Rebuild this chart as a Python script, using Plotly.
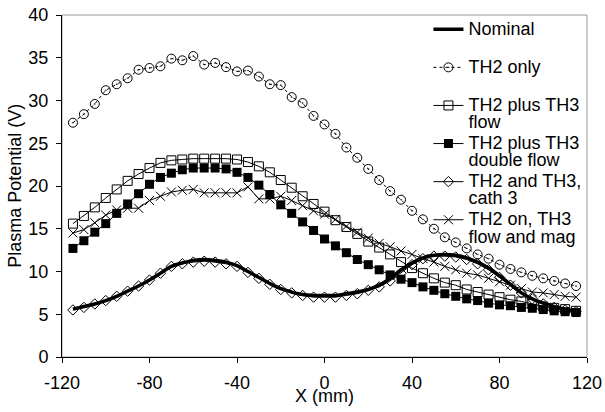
import plotly.graph_objects as go

x_mm = [-115, -110, -105, -100, -95, -90, -85, -80, -75, -70, -65, -60, -55, -50, -45, -40,
        -35, -30, -25, -20, -15, -10, -5, 0, 5, 10, 15, 20, 25, 30, 35, 40, 45, 50, 55, 60,
        65, 70, 75, 80, 85, 90, 95, 100, 105, 110, 115]

nominal = [5.6, 5.9, 6.2, 6.6, 7.1, 7.7, 8.3, 9.0, 9.8, 10.6, 11.0, 11.3, 11.4, 11.3, 11.1, 10.7,
           10.0, 9.3, 8.6, 8.0, 7.6, 7.3, 7.2, 7.2, 7.2, 7.4, 7.6, 7.9, 8.4, 9.2, 10.2, 11.0,
           11.6, 11.9, 12.0, 11.9, 11.6, 11.1, 10.4, 9.5, 8.5, 7.5, 6.8, 6.3, 5.9, 5.6, 5.4]

th2_only = [27.4, 28.4, 29.6, 31.2, 31.9, 32.6, 33.6, 33.8, 34.0, 34.9, 34.7, 35.2, 34.2, 34.4,
            33.9, 33.4, 33.5, 32.8, 31.9, 31.8, 30.4, 29.7, 28.2, 27.2, 26.1, 24.5, 23.3, 22.0,
            20.7, 19.4, 18.4, 17.1, 16.1, 15.0, 14.0, 13.4, 12.7, 12.0, 11.5, 10.8, 10.3, 9.9,
            9.5, 9.2, 8.9, 8.6, 8.3]

th3_flow = [15.6, 16.5, 17.5, 18.6, 19.6, 20.6, 21.4, 22.1, 22.7, 23.0, 23.1, 23.2, 23.2, 23.2,
            23.2, 23.1, 22.8, 22.3, 21.6, 20.7, 19.8, 18.8, 17.9, 17.0, 16.0, 15.2, 14.4, 13.5,
            12.8, 12.0, 11.1, 10.4, 9.8, 9.2, 8.7, 8.4, 7.9, 7.6, 7.3, 7.0, 6.7, 6.5, 6.2, 5.9,
            5.75, 5.6, 5.4]

th3_double = [12.7, 13.6, 14.6, 15.6, 16.8, 17.9, 19.1, 20.2, 21.0, 21.5, 21.9, 22.1, 22.1, 22.1,
              22.0, 21.6, 21.0, 20.1, 19.0, 17.8, 16.8, 15.8, 14.8, 13.8, 13.0, 12.2, 11.4, 10.8,
              10.2, 9.6, 9.1, 8.7, 8.2, 7.8, 7.4, 7.1, 6.8, 6.6, 6.3, 6.1, 6.0, 5.8, 5.7, 5.55,
              5.4, 5.3, 5.2]

cath3 = [5.5, 5.8, 6.2, 6.6, 7.1, 7.7, 8.3, 9.0, 9.8, 10.6, 10.9, 11.1, 11.2, 11.1, 10.9, 10.6,
         9.9, 9.2, 8.5, 7.9, 7.5, 7.2, 7.0, 7.0, 7.0, 7.2, 7.4, 7.8, 8.2, 8.9, 9.8, 10.8, 11.5,
         11.8, 11.8, 11.7, 11.4, 10.9, 10.2, 9.3, 8.4, 7.5, 6.8, 6.2, 5.8, 5.5, 5.3]

flow_mag = [14.5, 14.9, 15.7, 16.6, 17.2, 17.4, 17.4, 18.3, 18.8, 19.3, 19.5, 19.6, 19.2, 19.2,
            19.2, 19.2, 19.9, 18.5, 18.5, 18.8, 18.3, 17.7, 17.1, 16.7, 16.1, 15.3, 14.6, 13.9,
            13.3, 12.9, 12.4, 12.0, 11.5, 11.1, 10.6, 10.2, 9.8, 9.6, 9.2, 8.8, 8.4, 8.0, 7.6,
            7.5, 7.3, 7.1, 7.0]

x_tickvals = [-120, -80, -40, 0, 40, 80, 120]
x_ticktext = ["-120", "-80", "-40", "0", "40", "80", "120"]
y_tickvals = [0, 5, 10, 15, 20, 25, 30, 35, 40]

FONT = "Liberation Sans, Arial, sans-serif"
BIG = 18


def lbl(*lines):
    parts = ['<span style="font-size:%dpx">%s</span>' % (BIG, s) for s in lines]
    if len(parts) == 1:
        parts.append("&nbsp;")
    return "<br>".join(parts)


fig = go.Figure()

fig.add_trace(go.Scatter(
    x=x_mm, y=th2_only, name=lbl("TH2 only"), mode="lines+markers",
    line=dict(color="black", width=1, dash="dot"),
    marker=dict(symbol="circle-open-dot", size=9, color="black", line=dict(width=1)),
    legendrank=2))
fig.add_trace(go.Scatter(
    x=x_mm, y=th3_flow, name=lbl("TH2 plus TH3", "flow"), mode="lines+markers",
    line=dict(color="black", width=1),
    marker=dict(symbol="square-open", size=9, color="black", line=dict(width=1)),
    legendrank=3))
fig.add_trace(go.Scatter(
    x=x_mm, y=th3_double, name=lbl("TH2 plus TH3", "double flow"), mode="lines+markers",
    line=dict(color="black", width=1),
    marker=dict(symbol="square", size=9, color="black"),
    legendrank=4))
fig.add_trace(go.Scatter(
    x=x_mm, y=cath3, name=lbl("TH2 and TH3,", "cath 3"), mode="lines+markers",
    line=dict(color="black", width=1),
    marker=dict(symbol="diamond-open", size=8, color="black", line=dict(width=1)),
    legendrank=5))
fig.add_trace(go.Scatter(
    x=x_mm, y=flow_mag, name=lbl("TH2 on, TH3", "flow and mag"), mode="lines+markers",
    line=dict(color="black", width=1),
    marker=dict(symbol="x-thin-open", size=9, color="black", line=dict(width=1)),
    legendrank=6))
fig.add_trace(go.Scatter(
    x=x_mm, y=nominal, name=lbl("Nominal"), mode="lines",
    line=dict(color="black", width=3.5, shape="spline"),
    legendrank=1))

fig.update_layout(
    width=605, height=412,
    margin=dict(l=62, r=18, t=15, b=55, autoexpand=False),
    paper_bgcolor="white", plot_bgcolor="white",
    font=dict(family=FONT, size=BIG, color="black"),
    showlegend=True,
    legend=dict(
        x=0.698, y=1.003, xanchor="left", yanchor="top",
        bgcolor="rgba(0,0,0,0)", borderwidth=0,
        font=dict(family=FONT, size=13.5, color="black"),
        valign="top", tracegroupgap=0, itemwidth=30, maxheight=400,
    ),
    xaxis=dict(
        range=[-120, 120], tickvals=x_tickvals, ticktext=x_ticktext,
        showgrid=False, zeroline=False, showline=True, linecolor="black", linewidth=1,
        ticks="outside", ticklen=5, tickcolor="black", ticklabelstandoff=4,
        tickfont=dict(family=FONT, size=BIG),
    ),
    yaxis=dict(
        range=[0, 40], tickvals=y_tickvals,
        showgrid=False, zeroline=False, showline=True, linecolor="black", linewidth=1,
        ticks="outside", ticklen=5, tickcolor="black", ticklabelstandoff=4,
        tickfont=dict(family=FONT, size=BIG),
    ),
    shapes=[dict(type="rect", xref="paper", yref="paper", x0=0, y0=0, x1=1, y1=1,
                 line=dict(color="#9a9a9a", width=1), layer="below")],
    annotations=[
        dict(text="X (mm)", xref="paper", yref="paper", x=0.5, y=-0.114,
             xanchor="center", yanchor="middle", showarrow=False,
             font=dict(family=FONT, size=BIG)),
        dict(text="Plasma Potential (V)", xref="paper", yref="paper", x=-0.09, y=0.5,
             xanchor="center", yanchor="middle", textangle=-90, showarrow=False,
             font=dict(family=FONT, size=BIG)),
    ],
)

fig.write_html("out.html")
